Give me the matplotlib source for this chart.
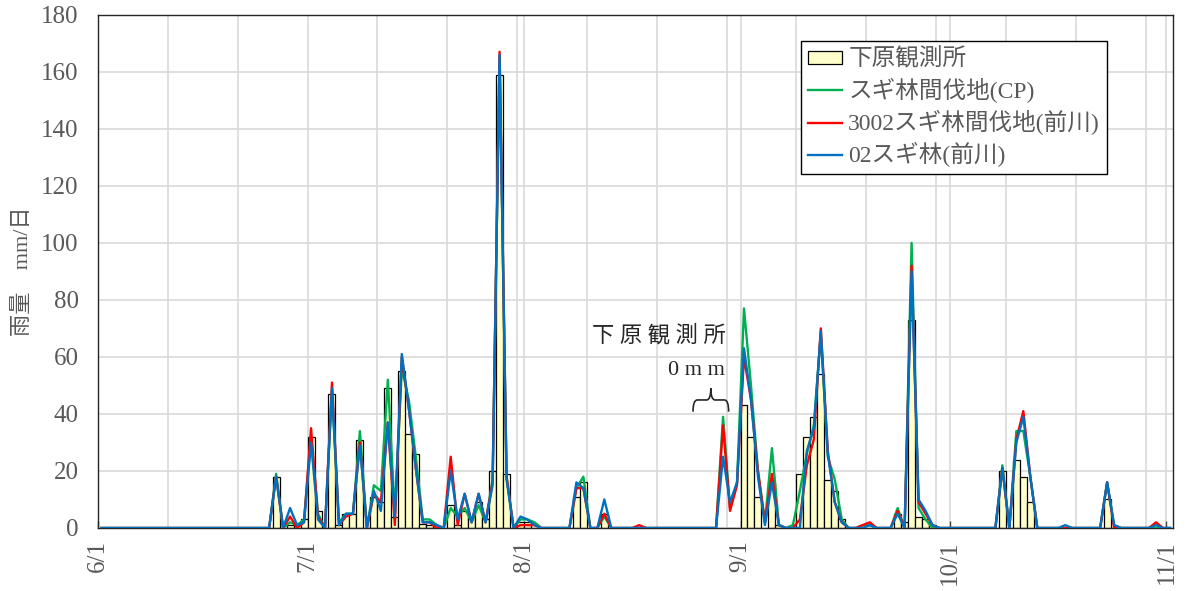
import datetime as dt

import matplotlib

matplotlib.use("Agg")
import matplotlib.pyplot as plt
import numpy as np
from matplotlib.patches import PathPatch
from matplotlib.path import Path

plt.rcParams["font.family"] = ["Liberation Serif", "Noto Sans CJK JP"]

# daily rainfall (mm/day); days not listed are 0
dates = [
    "6/26", "6/28", "6/29", "6/30", "7/1", "7/2", "7/4", "7/5", "7/6", "7/7",
    "7/8", "7/10", "7/11", "7/12", "7/13", "7/14", "7/15", "7/16", "7/17", "7/18",
    "7/19", "7/21", "7/22", "7/23", "7/24", "7/25", "7/26", "7/27", "7/28", "7/29",
    "7/31", "8/1", "8/2", "8/8", "8/9", "8/12", "8/17", "8/29", "8/30", "8/31",
    "9/1", "9/2", "9/3", "9/4", "9/5", "9/6", "9/8", "9/9", "9/10", "9/11",
    "9/12", "9/13", "9/14", "9/15", "9/18", "9/19", "9/23", "9/24", "9/25", "9/26",
    "9/27", "9/28", "10/8", "10/10", "10/11", "10/12", "10/17", "10/23", "10/24", "10/30",
]
shimohara = [
    18, 1, 0, 3, 32, 6, 47, 1, 5, 5,
    31, 11, 9, 49, 4, 55, 33, 26, 1.5, 1,
    0, 8, 1, 6, 4, 9, 3, 20, 159, 19,
    2, 2, 0, 11, 16, 5, 0, 0, 0, 0,
    43, 32, 11, 0, 16, 1, 0, 19, 32, 39,
    54, 17, 13, 3, 0, 0, 5, 2, 73, 4,
    3, 1, 20, 24, 18, 9, 0, 10, 0, 0,
]
sugi_cp = [
    19, 2, 1, 3, 32, 5, 48, 2, 5, 5,
    34, 15, 13, 52, 5, 56, 45, 25, 3, 3,
    1, 7, 4, 7, 2, 8, 2, 17, 165, 18,
    3, 3, 2, 14, 18, 4, 0, 39, 7, 16,
    77, 50, 20, 2, 28, 1, 1, 13, 26, 36,
    68, 25, 17, 3, 1, 1, 7, 0, 100, 7,
    3, 0, 22, 34, 34, 18, 0, 16, 1, 0,
]
sugi_3002 = [
    18, 4, 0, 2, 35, 4, 51, 1, 4, 5,
    30, 12, 9, 37, 1, 60, 42, 21, 2, 2,
    0, 25, 1, 12, 2, 12, 2, 16, 167, 18,
    1, 1, 1, 14, 14, 5, 1, 36, 6, 15,
    60, 45, 20, 2, 19, 1, 0, 3, 22, 31,
    70, 27, 9, 2, 1, 2, 6, 0, 92, 9,
    5, 1, 21, 31, 41, 18, 0, 16, 0, 2,
]
sugi_02 = [
    18, 7, 1, 2, 30, 3, 49, 1, 5, 5,
    29, 13, 6, 37, 4, 61, 42, 21, 2, 2,
    1, 20, 3, 12, 2, 12, 2, 15, 166, 17,
    4, 3, 1, 16, 14, 10, 0, 25, 9, 16,
    63, 45, 18, 1, 16, 1, 0, 0, 27, 35,
    69, 26, 9, 2, 0, 1, 5, 0, 90, 10,
    6, 1, 21, 30, 39, 18, 1, 16, 1, 1,
]
month_ticks = ["6/1", "7/1", "8/1", "9/1", "10/1", "11/1"]

series_names = ["スギ林間伐地(CP)", "3002スギ林間伐地(前川)", "02スギ林(前川)"]
series_colors = ["#00B050", "#FF0000", "#0070C0"]

start = dt.date(2000, 6, 1)
end = dt.date(2000, 11, 1)
n_days = (end - start).days + 1


def day_index(md):
    m, d = (int(v) for v in md.split("/"))
    return (dt.date(2000, m, d) - start).days


def fill_daily(values):
    out = np.zeros(n_days)
    for md, v in zip(dates, values):
        out[day_index(md)] = v
    return out


x = np.arange(n_days) + 0.5
bar_vals = fill_daily(shimohara)
line_vals = [fill_daily(v) for v in (sugi_cp, sugi_3002, sugi_02)]

grey = "#595959"
fig = plt.figure(figsize=(11.87, 5.91), dpi=100)
ax = fig.add_axes([0.0826, 0.1066, 0.906, 0.8685])

# grid: every 10 days plus each month start
ax.set_xticks([day_index(t) for t in month_ticks])
ax.set_xticklabels(month_ticks, rotation=90, fontsize=18, color=grey)
ax.set_xticks(np.arange(0, n_days, 10), minor=True)
ax.grid(True, which="both", color="#d9d9d9", linewidth=1.2)
ax.set_axisbelow(True)
ax.tick_params(axis="x", which="major", direction="in", length=5, width=1,
               color="#404040", pad=9)
ax.tick_params(axis="x", which="minor", length=0)

ax.set_xlim(0, n_days)
ax.set_ylim(0, 180)
ax.set_yticks(np.arange(0, 181, 20))
ax.tick_params(axis="y", length=0, pad=14, labelsize=18, labelcolor=grey)
ax.set_ylabel("雨量　mm/日", fontsize=16, color=grey, labelpad=6)

for sp in ax.spines.values():
    sp.set_color("#262626")
    sp.set_linewidth(1.0)

nz = bar_vals > 0
bars = ax.bar(x[nz], bar_vals[nz], width=1.0, color="#FFFFCC", edgecolor="black",
              linewidth=0.9, label="下原観測所", zorder=2)
lines = []
for vals, name, col in zip(line_vals, series_names, series_colors):
    lines += ax.plot(x, vals, color=col, linewidth=1.7, label=name, zorder=3)

# brace over the days with no rain at 下原観測所
x0, x1 = 85.2, 90.3
y0, ytop = 40.8, 49.0
ymid = (y0 + ytop) / 2
xm = (x0 + x1) / 2
q = (x1 - x0) * 0.12
verts = [(x0, y0), (x0, ymid), (x0 + q, ymid), (xm - q, ymid), (xm, ymid),
         (xm, ytop), (xm, ymid), (xm + q, ymid), (x1 - q, ymid), (x1, ymid),
         (x1, y0)]
codes = [Path.MOVETO, Path.CURVE3, Path.CURVE3, Path.LINETO, Path.CURVE3,
         Path.CURVE3, Path.CURVE3, Path.CURVE3, Path.LINETO, Path.CURVE3,
         Path.CURVE3]
ax.add_patch(PathPatch(Path(verts, codes), facecolor="none", edgecolor="#262626",
                       linewidth=1.2, zorder=4))
ax.text(80.3, 67.3, "下 原 観 測 所", fontsize=16, color="#262626",
        ha="center", va="center", zorder=4)
ax.text(85.7, 55.4, "0 m m", fontsize=16, color="#262626",
        ha="center", va="center", zorder=4)

handles = [bars] + lines
labels = ["下原観測所"] + series_names
leg = ax.legend(handles, labels, loc="upper left", bbox_to_anchor=(0.6537, 0.9488),
                borderaxespad=0, fontsize=17, frameon=True, fancybox=False,
                framealpha=1, edgecolor="black", handlelength=1.45,
                handleheight=0.45, handletextpad=0.25, labelspacing=0.3,
                borderpad=0.3)
leg.get_frame().set_linewidth(1.0)
for t in leg.get_texts():
    t.set_color(grey)

fig.savefig("out.png", dpi=100)
